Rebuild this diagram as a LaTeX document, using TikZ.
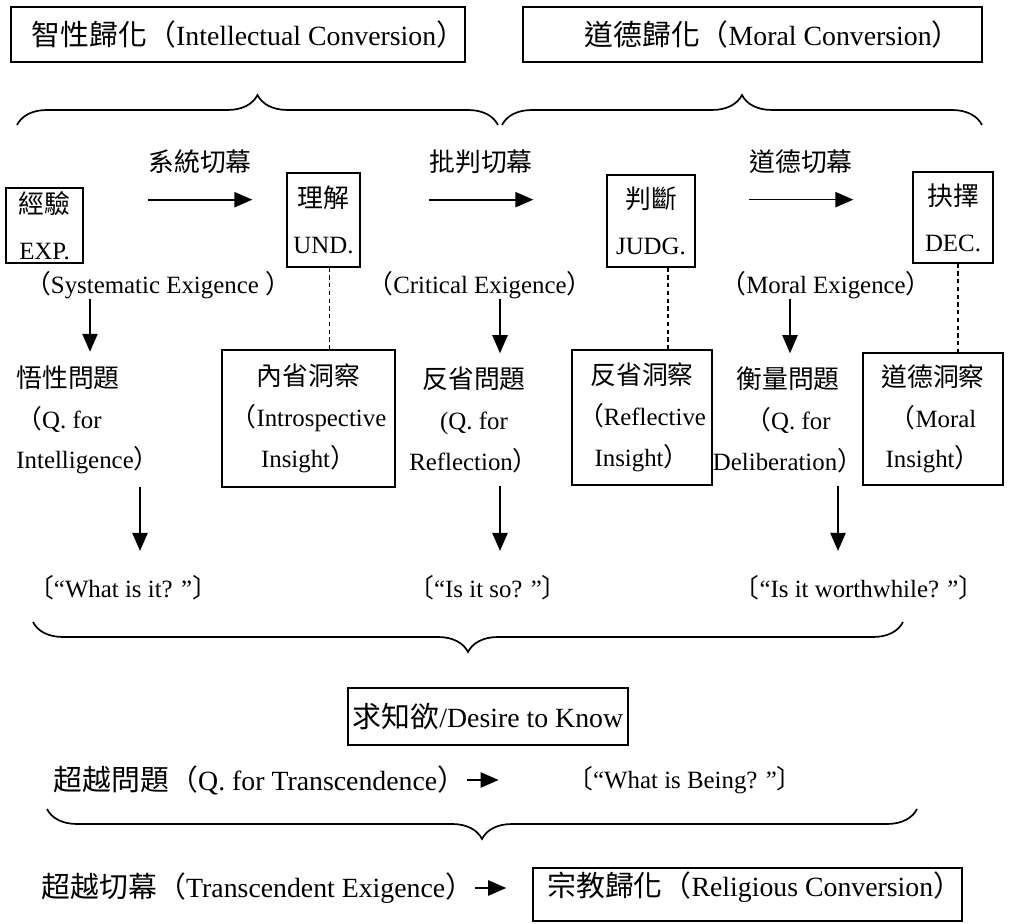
\documentclass[tikz,border=0pt]{standalone}
\usepackage{fontspec}
\setmainfont{Liberation Serif}[Scale=1.04]
\newfontfamily\cjk{Noto Sans CJK TC}[Scale=1.08]
\usetikzlibrary{arrows.meta,decorations.pathreplacing}
\newcommand{\zh}[1]{{\cjk #1}}
\newcommand{\fsmid}{\fontsize{17}{29}\selectfont}
\newcommand{\fsstage}{\fontsize{17}{32.7}\selectfont}
\newcommand{\fsbig}{\fontsize{19}{23}\selectfont}
\begin{document}
\begin{tikzpicture}[
        x=0.025cm,
        y=-0.025cm,
        line width=1pt,
        font=\fsmid
    ]
    \tikzset{
        cbox/.style = {rectangle, draw=black, inner sep=0pt, align=center, font=\fsbig},
        sbox/.style = {rectangle, draw=black, inner sep=0pt, align=center, font=\fsstage},
        ibox/.style = {rectangle, draw=black, inner sep=0pt, align=center, font=\fsmid},
        qtext/.style = {inner sep=0pt, align=center, font=\fsmid},
        btext/.style = {inner sep=0pt, font=\fsbig},
        edgea/.style = {-{Triangle[length=4.5mm,width=3.8mm]}, line width=1.2pt},
        edged/.style = {-, line width=1.3pt, dash pattern=on 3pt off 2.5pt},
        edgebr/.style = {decorate, decoration={brace, amplitude=0.75cm}, line width=1.2pt},
    }
    \useasboundingbox (0,0) rectangle (1009,924);
    \node[cbox, minimum width=11.35cm, minimum height=1.375cm, text width=11.35cm, align=flush right] at (238,34.5) (intel) {\zh{智性歸化（}Intellectual Conversion\zh{）}};
    \node[cbox, minimum width=11.475cm, minimum height=1.375cm, text width=10.4cm, align=flush right] at (752.5,34.5) (moral) {\zh{道德歸化（}Moral Conversion\zh{）}};
    \coordinate (b1l) at (17,125);
    \coordinate (b1r) at (498,125);
    \coordinate (b2l) at (502,125);
    \coordinate (b2r) at (982,125);
    \draw[edgebr] (b1l) -- (b1r);
    \draw[edgebr] (b2l) -- (b2r);
    %
    \node[qtext] at (200,162) (sysl) {\zh{系統切幕}};
    \node[qtext] at (481,162) (critl) {\zh{批判切幕}};
    \node[qtext] at (801,162) (morl) {\zh{道德切幕}};
    \node[sbox, minimum width=1.925cm, minimum height=1.875cm] at (44.5,225.5) (exp) {\zh{經驗}\\EXP.};
    \node[sbox, minimum width=1.825cm, minimum height=2.35cm] at (323.5,220) (und) {\zh{理解}\\UND.};
    \node[sbox, minimum width=2.2cm, minimum height=2.3cm] at (651,221) (judg) {\zh{判斷}\\JUDG.};
    \node[sbox, minimum width=2cm, minimum height=2.275cm] at (953,217.5) (dec) {\zh{抉擇}\\DEC.};
    \draw[edgea] ([yshift=-0.625cm]sysl.south west) -- ([yshift=-0.625cm]sysl.south east);
    \draw[edgea] ([yshift=-0.625cm]critl.south west) -- ([yshift=-0.625cm]critl.south east);
    \draw[edgea] ([yshift=-0.625cm]morl.south west) -- ([yshift=-0.625cm]morl.south east);
    %
    \node[qtext] at (158,285) (sysex) {\zh{（}Systematic Exigence \zh{）}};
    \node[qtext] at (480,285) (critex) {\zh{（}Critical Exigence\zh{）}};
    \node[qtext] at (826,285) (morex) {\zh{（}Moral Exigence\zh{）}};
    %
    \node[qtext, align=left] at (88,420) (qint) {\zh{悟性問題}\\\zh{（}Q. for\\Intelligence\zh{）}};
    \node[qtext] at (474,420) (qref) {\zh{反省問題}\\(Q. for\\Reflection\zh{）}};
    \node[qtext] at (788,420) (qdel) {\zh{衡量問題}\\\zh{（}Q. for\\Deliberation\zh{）}};
    \node[ibox, minimum width=4.325cm, minimum height=3.425cm] at (308.5,418.5) (ins1) {\zh{內省洞察}\\\zh{（}Introspective\\Insight\zh{）}};
    \node[ibox, minimum width=3.5cm, minimum height=3.375cm] at (642,417.5) (ins2) {\zh{反省洞察}\\\zh{（}Reflective\\Insight\zh{）}};
    \node[ibox, minimum width=3.5cm, minimum height=3.3cm] at (933,419) (ins3) {\zh{道德洞察}\\\zh{（}Moral\\Insight\zh{）}};
    %
    \draw[edgea, shorten >=0.33cm] ([xshift=-1.7cm]sysex.south) -- ([xshift=-1.7cm]sysex.south |- qint.north);
    \draw[edgea, shorten >=0.33cm] ([xshift=0.5cm]critex.south) -- ([xshift=0.5cm]critex.south |- qref.north);
    \draw[edgea, shorten >=0.33cm] ([xshift=-0.9cm]morex.south) -- ([xshift=-0.9cm]morex.south |- qdel.north);
    \draw[edged] ([xshift=0.15cm]und.south) -- ([xshift=0.15cm]und.south |- ins1.north);
    \draw[edged] ([xshift=0.425cm]judg.south) -- ([xshift=0.425cm]judg.south |- ins2.north);
    \draw[edged] ([xshift=0.125cm]dec.south) -- ([xshift=0.125cm]dec.south |- ins3.north);
    %
    \node[qtext] at (123,588) (whatq) {\zh{〔}“What is it? ”\zh{〕}};
    \node[qtext] at (488,588) (soq) {\zh{〔}“Is it so? ”\zh{〕}};
    \node[qtext] at (859,588) (worthq) {\zh{〔}“Is it worthwhile? ”\zh{〕}};
    \draw[edgea, shorten <=0.3cm, shorten >=0.6cm] ([xshift=1.3cm]qint.south) -- ([xshift=1.3cm]qint.south |- whatq.north);
    \draw[edgea, shorten <=0.3cm, shorten >=0.6cm] ([xshift=0.65cm]qref.south) -- ([xshift=0.65cm]qref.south |- soq.north);
    \draw[edgea, shorten <=0.3cm, shorten >=0.6cm] ([xshift=1.25cm]qdel.south) -- ([xshift=1.25cm]qdel.south |- worthq.north);
    \coordinate (b3r) at (903,622);
    \coordinate (b3l) at (33,622);
    \draw[edgebr] (b3r) -- (b3l);
    %
    \node[cbox, minimum width=7cm, minimum height=1.425cm] at (488,716.5) (desire) {\zh{求知欲}/Desire to Know};
    \node[btext] at (260,780) (transq) {\zh{超越問題（}Q. for Transcendence\zh{）}};
    \node[qtext] at (685,780) (beingq) {\zh{〔}“What is Being? ”\zh{〕}};
    \draw[edgea, shorten >=1.7cm] (transq.east) -- (beingq.west);
    \coordinate (b4r) at (917,809);
    \coordinate (b4l) at (47,809);
    \draw[edgebr] (b4r) -- (b4l);
    %
    \node[btext] at (258,888) (transex) {\zh{超越切幕（}Transcendent Exigence\zh{）}};
    \node[cbox, minimum width=10.725cm, text width=10.725cm, align=flush right, text height=0.725cm, text depth=0.6cm] at (747.5,894.5) (relig) {\zh{宗教歸化（}Religious Conversion\zh{）}};
    \draw[edgea, shorten >=0.65cm] (transex.east) -- (transex.east -| relig.west);
\end{tikzpicture}
\end{document}
